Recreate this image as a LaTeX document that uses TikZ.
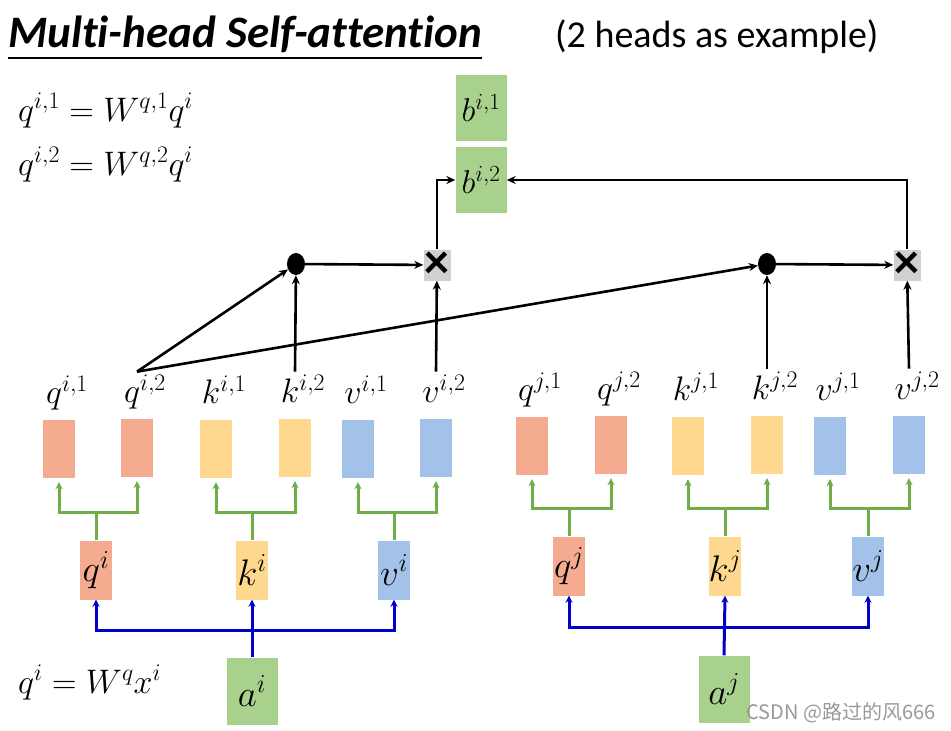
\RequirePackage{fix-cm}
\documentclass[tikz,border=0pt]{standalone}
\usepackage{fontspec}
\newfontfamily\calibri[Ligatures=NoCommon]{Carlito}
\newfontfamily\cjk{Noto Sans CJK SC}
\usetikzlibrary{arrows.meta,shapes.geometric}
\definecolor{qcol}{HTML}{F4AB8F}
\definecolor{kcol}{HTML}{FFD890}
\definecolor{vcol}{HTML}{A3C2EA}
\definecolor{bcol}{HTML}{A9D18E}
\definecolor{gcol}{HTML}{70AD47}
\definecolor{xcol}{HTML}{D0D0D0}
\tikzset{
  vec/.style={minimum width=32pt, minimum height=58pt, inner sep=0pt,
    font=\fontsize{37}{40}\selectfont},
  qvec/.style={vec, fill=qcol},
  kvec/.style={vec, fill=kcol},
  vvec/.style={vec, fill=vcol},
  avec/.style={vec, fill=bcol, minimum width=51pt, minimum height=67pt},
  bvec/.style={vec, fill=bcol, minimum width=51pt, minimum height=66pt,
    font=\fontsize{33}{36}\selectfont},
  lab/.style={inner sep=0pt, anchor=base, font=\fontsize{34}{36}\selectfont},
  eqn/.style={inner sep=0pt, anchor=base west, font=\fontsize{34}{36}\selectfont},
  dotnode/.style={ellipse, fill=black, minimum width=18pt, minimum height=22pt, inner sep=0pt},
  mulbox/.style={fill=xcol, minimum width=27pt, minimum height=31pt, inner sep=0pt,
    font=\calibri\bfseries\fontsize{50}{50}\selectfont},
  gline/.style={draw=gcol, line width=3pt, shorten >=4pt,
    -{Stealth[length=7pt,width=7pt]}},
  bline/.style={draw=blue!80!black, line width=3pt,
    -{Stealth[length=7pt,width=7pt]}},
  kline/.style={line width=2.6pt, -{Stealth[length=9pt,width=8pt]}},
}

\begin{document}
\begin{tikzpicture}[x=1pt,y=-1pt]
  \useasboundingbox[fill=white] (0,0) rectangle (951,731);

  % title
  \node[inner sep=0pt, anchor=base west, font=\calibri\bfseries\itshape\fontsize{45}{48}\selectfont]
    (title) at (8,47) {Multi-head Self-attention};
  \draw[line width=1.5pt] ([yshift=-11pt]title.base west) -- ([yshift=-11pt]title.base east);
  \node[inner sep=0pt, anchor=base west, font=\calibri\fontsize{38}{40}\selectfont]
    (note) at (555,47) {(2 heads as example)};

  % equations
  \node[eqn] (eq1) at (18,121) {$q^{i,1}=W^{q,1}q^i$};
  \node[eqn] (eq2) at (18,175) {$q^{i,2}=W^{q,2}q^i$};
  \node[eqn] (eq3) at (18,693) {$q^i=W^qx^i$};

  % heads q,k,v
  \foreach \n/\x/\y/\s/\l/\p/\h in {qi1/59/449/qvec/q/i/1, qi2/137/448/qvec/q/i/2,
      ki1/216/449/kvec/k/i/1, ki2/295/448/kvec/k/i/2,
      vi1/358/449/vvec/v/i/1, vi2/436/448/vvec/v/i/2,
      qj1/532/446/qvec/q/j/1, qj2/611/445/qvec/q/j/2,
      kj1/688/446/kvec/k/j/1, kj2/767/445/kvec/k/j/2,
      vj1/830/446/vvec/v/j/1, vj2/909/445/vvec/v/j/2} {
    \node[\s] (\n) at (\x,\y) {};
    \node[lab] (l\n) at ([xshift=8pt,yshift=16pt]\n.north) {$\l^{\p,\h}$};
  }

  % q,k,v
  \node[qvec, minimum height=59pt] (qi) at (96,570) {$q^i$};
  \node[kvec, minimum height=59pt] (ki) at (252,570) {$k^i$};
  \node[vvec, minimum height=59pt] (vi) at (394,570) {$v^i$};
  \node[qvec, minimum height=59pt] (qj) at (569,566) {$q^j$};
  \node[kvec, minimum height=59pt] (kj) at (725,566) {$k^j$};
  \node[vvec, minimum height=59pt] (vj) at (868,566) {$v^j$};

  % inputs
  \node[avec] (ai) at (252,691) {$a^i$};
  \node[avec] (aj) at (724,689) {$a^j$};

  % outputs
  \node[bvec] (bi1) at (481,108) {$b^{i,1}$};
  \node[bvec] (bi2) at (481,180) {$b^{i,2}$};

  \node[dotnode] (d1) at (296,264) {};
  \node[dotnode] (d2) at (767,264) {};
  \node[mulbox] (m1) at (437,265) {×};
  \node[mulbox] (m2) at (907,265) {×};

  % split into heads
  \foreach \m/\a/\b in {qi/qi1/qi2, ki/ki1/ki2, vi/vi1/vi2, qj/qj1/qj2, kj/kj1/kj2, vj/vj1/vj2} {
    \draw[gline] (\m.north) -- ++(0,-28) -| (\a.south);
    \draw[gline] (\m.north) ++(0,-28) -| (\b.south);
  }

  % a -> q,k,v
  \draw[bline] (ai.north) -- (ki.south);
  \draw[bline] ([yshift=27pt]ai.north) -| (qi.south);
  \draw[bline] ([yshift=27pt]ai.north) -| (vi.south);
  \draw[bline] (aj.north) -- (kj.south);
  \draw[bline] ([yshift=28pt]aj.north) -| (qj.south);
  \draw[bline] ([yshift=28pt]aj.north) -| (vj.south);

  % second head
  \coordinate (src) at ([yshift=3pt]lqi2.north -| qi2.north);
  \draw[kline] (src) -- (d1);
  \draw[kline] (src) -- (d2);
  \draw[kline] ([yshift=3pt]lki2.north -| ki2.north) -- (d1);
  \draw[kline] ([yshift=3pt]lkj2.north -| kj2.north) -- (d2);
  \draw[kline] ([yshift=3pt]lvi2.north -| vi2.north) -- (m1);
  \draw[kline] ([yshift=3pt]lvj2.north -| vj2.north) -- (m2);
  \draw[kline] (d1) -- (m1);
  \draw[kline] (d2) -- (m2);
  \draw[kline] (m1.north) |- (bi2.west);
  \draw[kline] (m2.north) |- (bi2.east);

  \node[inner sep=0pt, anchor=base east, text=gray!80, font=\cjk\fontsize{20}{22}\selectfont]
    (mark) at (936,719) {CSDN @路过的风666};
\end{tikzpicture}
\end{document}
